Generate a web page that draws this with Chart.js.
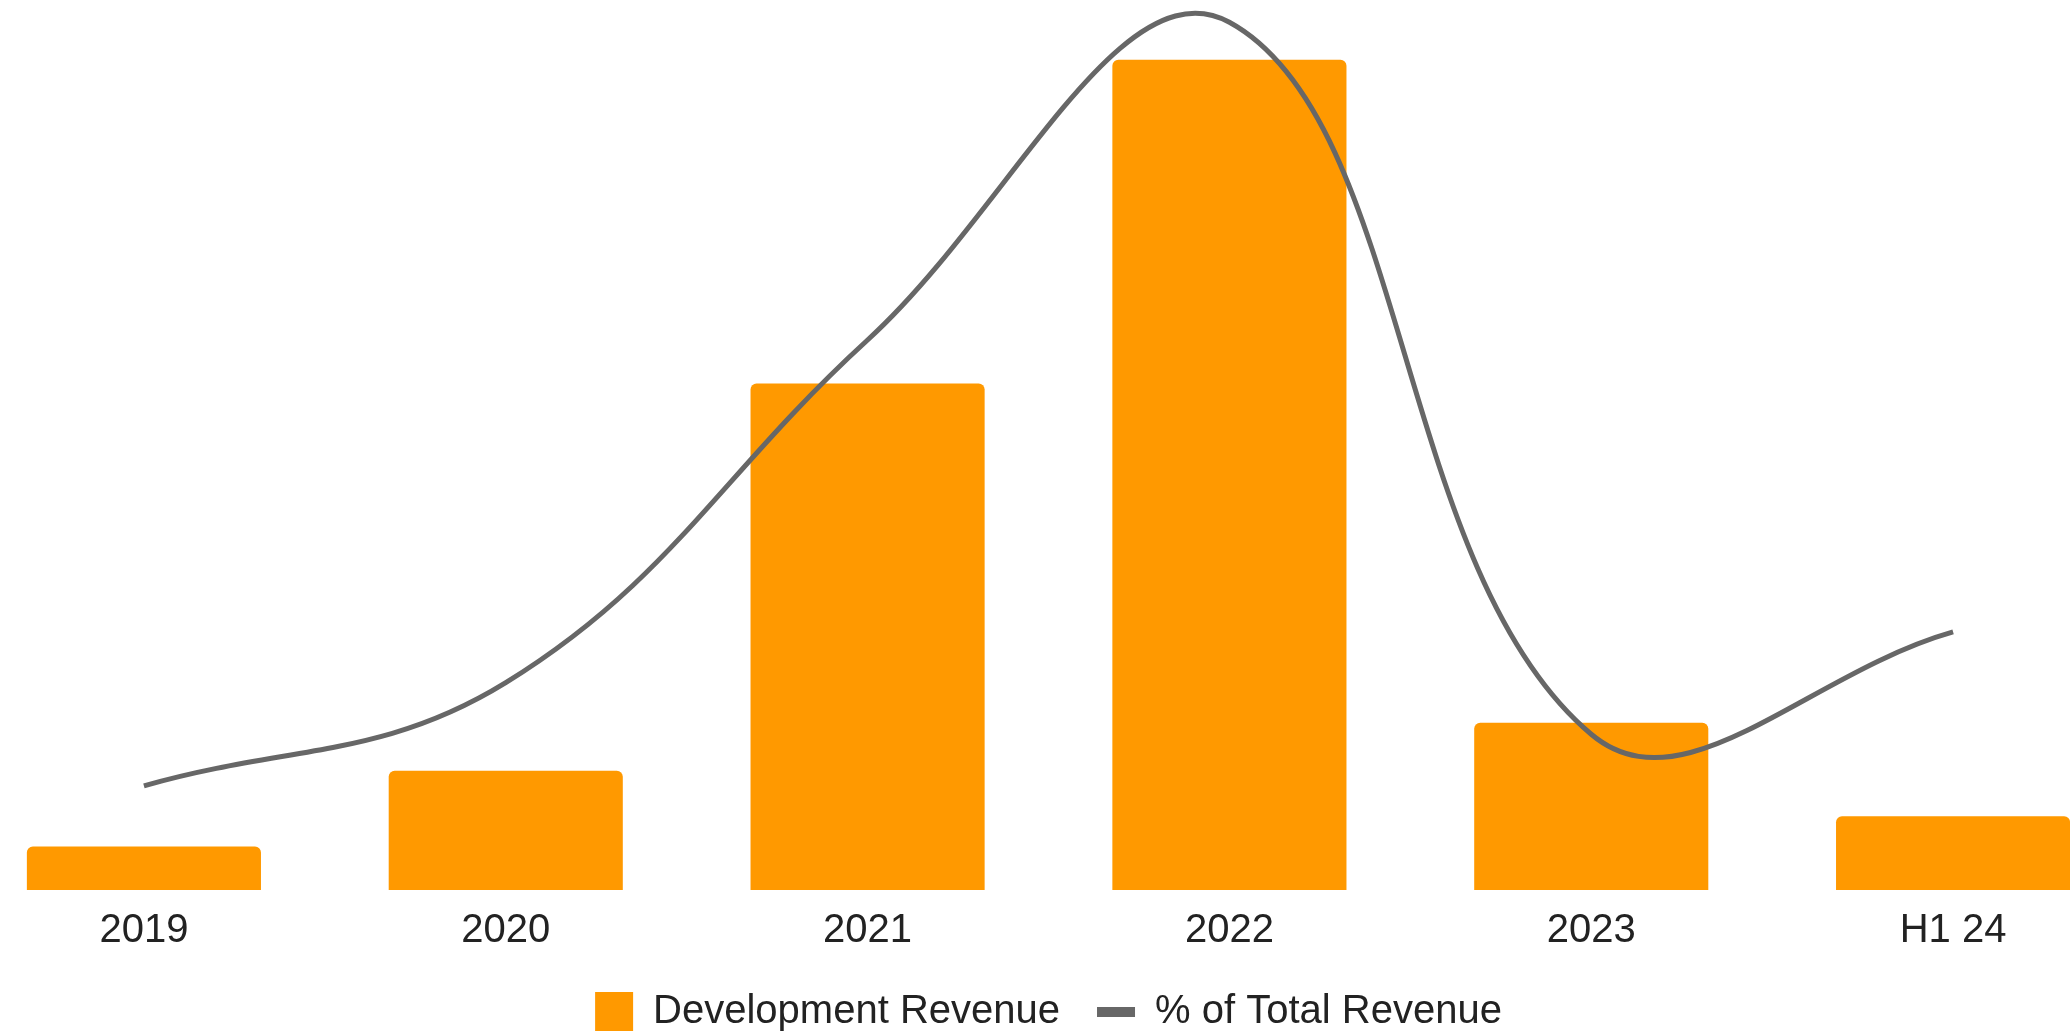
<!DOCTYPE html>
<html>
<head>
<meta charset="utf-8">
<title>Development Revenue</title>
<script src="https://cdn.jsdelivr.net/npm/chart.js@4.4.1/dist/chart.umd.min.js"></script>
<style>
    html, body { margin: 0; padding: 0; background: #fff; overflow: hidden; }
    #wrap { position: relative; width: 2070px; height: 1031px; overflow: hidden; }
    /* plot runs a little past both edges, the same way the slide crops it */
    #inner { position: absolute; left: -37px; top: 0; width: 2171px; height: 1042px; }
</style>
</head>
<body>
<div id="wrap">
    <div id="inner"><canvas id="myChart"></canvas></div>
</div>
<script>
const periods = ["2019", "2020", "2021", "2022", "2023", "H1 24"];
const devRevenue = [4.9, 13.4, 56.9, 93.3, 18.8, 8.3];
const shareOfTotal = [11.7, 23.3, 61.8, 97.5, 17.5, 29.0];

const orange = "#ff9900";
const grey = "#676767";

const ctx = document.getElementById("myChart");

new Chart(ctx, {
    data: {
        labels: periods,
        datasets: [{
            type: "bar",
            label: "Development Revenue",
            data: devRevenue,
            backgroundColor: orange,
            borderRadius: 6,
            categoryPercentage: 1,
            barPercentage: 0.647,
            yAxisID: "y",
            order: 2
        }, {
            type: "line",
            label: "% of Total Revenue",
            data: shareOfTotal,
            borderColor: grey,
            backgroundColor: grey,
            borderWidth: 5,
            pointRadius: 0,
            tension: 0.4,
            capBezierPoints: false,
            clip: false,
            yAxisID: "y1",
            order: 1
        }]
    },
    options: {
        responsive: true,
        maintainAspectRatio: false,
        animation: false,
        layout: {padding: 0},
        scales: {
            x: {
                grid: {display: false, drawTicks: false},
                border: {display: false},
                // pull the legend a bit closer to the year labels
                afterFit: scale => { scale.height -= 17; },
                ticks: {
                    color: "#222",
                    padding: 17,
                    autoSkip: false,
                    maxRotation: 0,
                    font: {family: "'Liberation Sans', Arial, sans-serif", size: 40}
                }
            },
            y: {display: false, min: 0, max: 100},
            y1: {display: false, min: 0, max: 100}
        },
        plugins: {
            tooltip: {enabled: false},
            legend: {
                position: "bottom",
                labels: {
                    color: "#222",
                    padding: 37,
                    usePointStyle: true,
                    pointStyleWidth: 38,
                    boxHeight: 40,
                    font: {family: "'Liberation Sans', Arial, sans-serif", size: 40},
                    generateLabels: chart => chart.data.datasets.map((ds, i) => ({
                        text: ds.label,
                        fillStyle: ds.type === "line" ? grey : orange,
                        strokeStyle: ds.type === "line" ? grey : orange,
                        lineWidth: ds.type === "line" ? 10 : 0,
                        pointStyle: ds.type === "line" ? "line" : "rect",
                        fontColor: "#222",
                        hidden: false,
                        datasetIndex: i
                    }))
                }
            }
        }
    }
});
</script>
</body>
</html>
